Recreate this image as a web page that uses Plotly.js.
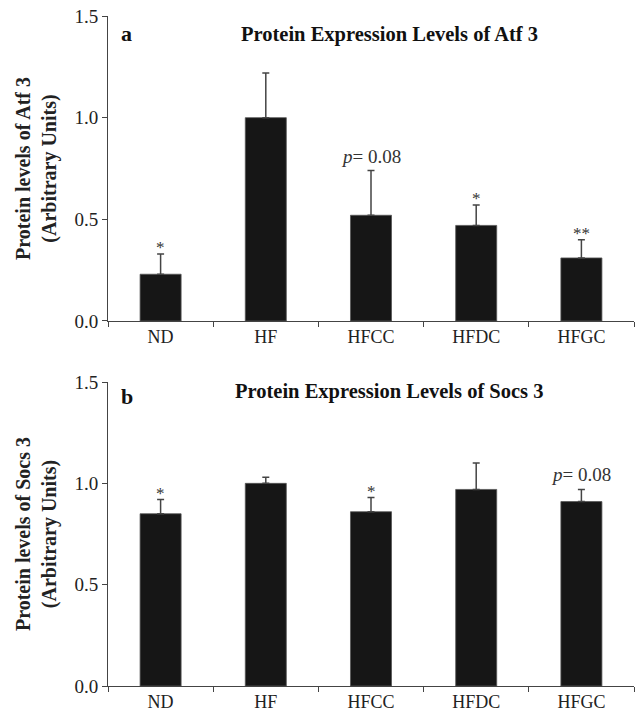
<!DOCTYPE html>
<html>
<head>
<meta charset="utf-8">
<script src="https://cdn.plot.ly/plotly-3.0.1.min.js"></script>
<style>html,body{margin:0;padding:0;background:#fff;}#chart{width:638px;height:711px;}</style>
</head>
<body>
<div id="chart"></div>
<script>
const categories = ["ND", "HF", "HFCC", "HFDC", "HFGC"];
const atf3Values = [0.23, 1.00, 0.52, 0.47, 0.31];
const atf3Errors = [0.10, 0.22, 0.22, 0.10, 0.09];
const atf3Marks = ["*", "", "<i>p</i>= 0.08", "*", "**"];
const socs3Values = [0.85, 1.00, 0.86, 0.97, 0.91];
const socs3Errors = [0.07, 0.03, 0.07, 0.13, 0.06];
const socs3Marks = ["*", "", "*", "", "<i>p</i>= 0.08"];
const yTicks = [0, 0.5, 1.0, 1.5];

const serif = "Liberation Serif";
const barColor = "#161616";

function barTrace(vals, errs, xa, ya) {
  return {
    type: "bar", x: categories, y: vals, xaxis: xa, yaxis: ya,
    width: 0.39,
    marker: {color: barColor, line: {color: "#555", width: 0.8}},
    error_y: {type: "data", array: errs, arrayminus: errs.map(() => 0), symmetric: false,
              color: "#444", thickness: 1.5, width: 3.5},
    hoverinfo: "skip", showlegend: false
  };
}

const traces = [
  barTrace(atf3Values, atf3Errors, "x", "y"),
  barTrace(socs3Values, socs3Errors, "x2", "y2")
];

function markAnnots(vals, errs, marks, xr, yr) {
  const out = [];
  marks.forEach((m, i) => {
    if (!m) return;
    const isP = m.indexOf("=") >= 0;
    out.push({
      xref: xr, yref: yr, x: categories[i], y: vals[i] + errs[i],
      text: m, showarrow: false, yanchor: "bottom",
      yshift: isP ? 2 : -5,
      font: {family: serif, size: isP ? 19 : 17, color: "#333"}
    });
  });
  return out;
}

const axisX = {
  type: "category", tickson: "boundaries", ticks: "outside", ticklen: 5, tickwidth: 1,
  tickcolor: "#444", showline: true, linecolor: "#444", linewidth: 1,
  showgrid: false, zeroline: false, range: [-0.5, 4.5], fixedrange: true,
  ticklabelstandoff: -1,
  tickfont: {family: serif, size: 18, color: "#222"}
};
function axisY(title, domain, anchor) {
  return {
    domain: domain, anchor: anchor, range: [0, 1.5], tickvals: yTicks, tickformat: ".1f",
    ticks: "outside", ticklen: 5, tickwidth: 1, tickcolor: "#444",
    showline: true, linecolor: "#444", linewidth: 1, showgrid: false, zeroline: false,
    tickfont: {family: serif, size: 19, color: "#222"},
    title: {text: title, font: {family: serif, size: 20, color: "#222"}, standoff: 12}
  };
}

const layout = {
  width: 638, height: 711,
  margin: {l: 108, r: 4, t: 16, b: 25},
  paper_bgcolor: "#fff", plot_bgcolor: "#fff",
  xaxis: Object.assign({}, axisX, {anchor: "y"}),
  yaxis: axisY("<b>Protein levels of Atf 3</b><br><b>(Arbitrary Units)</b>", [0.5448, 1], "x"),
  xaxis2: Object.assign({}, axisX, {anchor: "y2"}),
  yaxis2: axisY("<b>Protein levels of Socs 3</b><br><b>(Arbitrary Units)</b>", [0, 0.4537], "x2"),
  annotations: [
    {xref: "paper", yref: "paper", x: 0.02, y: 0.995, xanchor: "left", yanchor: "top",
     text: "<b>a</b>", showarrow: false, font: {family: serif, size: 22, color: "#111"}},
    {xref: "paper", yref: "paper", x: 0.535, y: 0.993, xanchor: "center", yanchor: "top",
     text: "<b>Protein Expression Levels of Atf 3</b>", showarrow: false,
     font: {family: serif, size: 20.5, color: "#111"}},
    {xref: "paper", yref: "paper", x: 0.02, y: 0.4537, xanchor: "left", yanchor: "top",
     text: "<b>b</b>", showarrow: false, font: {family: serif, size: 22, color: "#111"}},
    {xref: "paper", yref: "paper", x: 0.535, y: 0.46, xanchor: "center", yanchor: "top",
     text: "<b>Protein Expression Levels of Socs 3</b>", showarrow: false,
     font: {family: serif, size: 20.5, color: "#111"}}
  ].concat(markAnnots(atf3Values, atf3Errors, atf3Marks, "x", "y"))
   .concat(markAnnots(socs3Values, socs3Errors, socs3Marks, "x2", "y2"))
};

Plotly.newPlot("chart", traces, layout, {displayModeBar: false, staticPlot: true});
</script>
</body>
</html>
